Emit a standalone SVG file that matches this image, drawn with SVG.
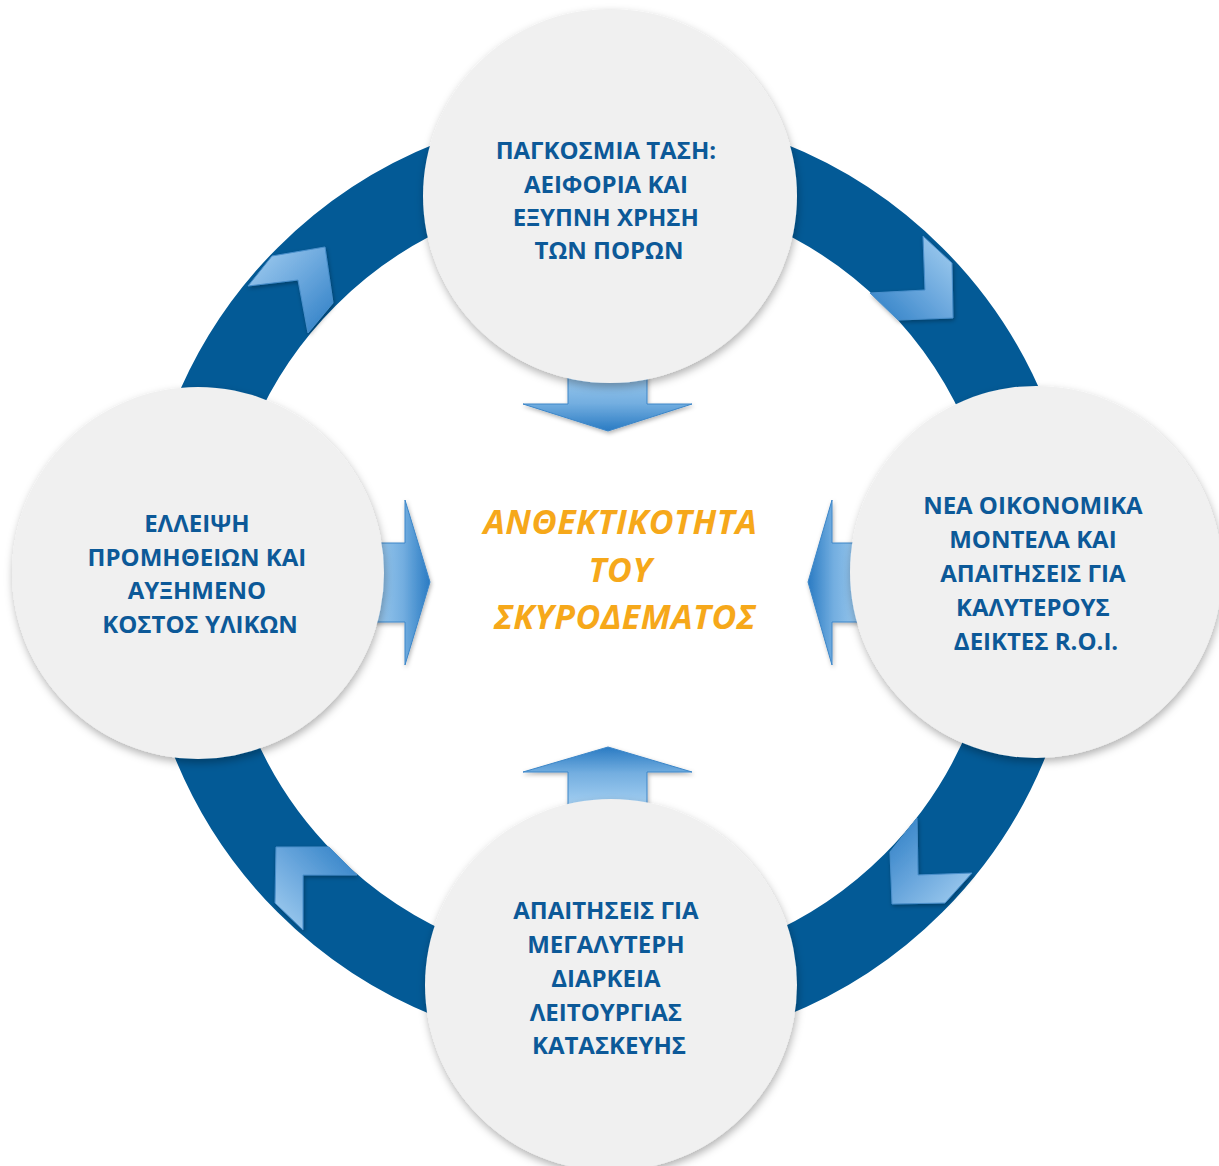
<svg xmlns="http://www.w3.org/2000/svg" width="1219" height="1166" viewBox="0 0 1219 1166">
  <defs>
    <style>
      .ring { fill: none; stroke: #035a96; stroke-width: 82; }
      .node { fill: #f0f0f0; filter: url(#nodeShadow); }
      .label { font-family: "Open Sans", "Noto Sans", "DejaVu Sans", sans-serif; font-weight: 700; font-size: 24px; fill: #0c5998; text-anchor: middle; }
      .core { font-family: "Open Sans", "Noto Sans", "DejaVu Sans", sans-serif; font-weight: 700; font-style: italic; font-size: 34px; letter-spacing: 0.5px; fill: #f6a81a; text-anchor: middle; }
      .chev { stroke: #4a8fcb; stroke-width: 1; stroke-linejoin: miter; filter: url(#chevShadow); }
      .arrow { stroke: #3c86c8; stroke-width: 1; filter: url(#chevShadow); }
    </style>
    <filter id="nodeShadow" x="-20%" y="-20%" width="140%" height="140%">
      <feDropShadow dx="1" dy="4" stdDeviation="4" flood-color="#000" flood-opacity="0.3"/>
    </filter>
    <filter id="chevShadow" x="-20%" y="-20%" width="140%" height="140%">
      <feDropShadow dx="1" dy="2" stdDeviation="2" flood-color="#000" flood-opacity="0.3"/>
    </filter>
    <!-- chevron fills: light end to dark end along each chevron's diagonal -->
    <linearGradient id="chevTL" x1="0" y1="0" x2="1" y2="1">
      <stop offset="0" stop-color="#a6d0f1"/>
      <stop offset="0.5" stop-color="#6aa7dd"/>
      <stop offset="1" stop-color="#2b7dc4"/>
    </linearGradient>
    <linearGradient id="chevTR" x1="1" y1="0" x2="0" y2="1">
      <stop offset="0" stop-color="#a6d0f1"/>
      <stop offset="0.5" stop-color="#6aa7dd"/>
      <stop offset="1" stop-color="#2b7dc4"/>
    </linearGradient>
    <linearGradient id="chevBR" x1="1" y1="1" x2="0" y2="0">
      <stop offset="0" stop-color="#a6d0f1"/>
      <stop offset="0.5" stop-color="#6aa7dd"/>
      <stop offset="1" stop-color="#2b7dc4"/>
    </linearGradient>
    <linearGradient id="chevBL" x1="0" y1="1" x2="1" y2="0">
      <stop offset="0" stop-color="#a6d0f1"/>
      <stop offset="0.5" stop-color="#6aa7dd"/>
      <stop offset="1" stop-color="#2b7dc4"/>
    </linearGradient>
    <!-- inward arrows: pale at the node, deep blue at the tip -->
    <linearGradient id="arrDown" x1="0" y1="0" x2="0" y2="1">
      <stop offset="0" stop-color="#a4cff1"/>
      <stop offset="0.55" stop-color="#73aee0"/>
      <stop offset="1" stop-color="#2a7bc3"/>
    </linearGradient>
    <linearGradient id="arrUp" x1="0" y1="1" x2="0" y2="0">
      <stop offset="0" stop-color="#a4cff1"/>
      <stop offset="0.55" stop-color="#73aee0"/>
      <stop offset="1" stop-color="#2a7bc3"/>
    </linearGradient>
    <linearGradient id="arrRight" x1="0" y1="0" x2="1" y2="0">
      <stop offset="0" stop-color="#a4cff1"/>
      <stop offset="0.55" stop-color="#73aee0"/>
      <stop offset="1" stop-color="#2a7bc3"/>
    </linearGradient>
    <linearGradient id="arrLeft" x1="1" y1="0" x2="0" y2="0">
      <stop offset="0" stop-color="#a4cff1"/>
      <stop offset="0.55" stop-color="#73aee0"/>
      <stop offset="1" stop-color="#2a7bc3"/>
    </linearGradient>
  </defs>

  <rect width="1219" height="1166" fill="#ffffff"/>

  <!-- cycle ring with clockwise chevrons, and the four inward arrows -->
  <g id="connectors">
    <circle class="ring" cx="610" cy="580" r="429"/>
    <polygon class="chev" fill="url(#chevTL)" points="248,286 272,256 325,247 333,303 308,333 298,280"/>
    <polygon class="chev" fill="url(#chevTR)" points="923,236 952,263 953,318 898,320 870,293 925,290"/>
    <polygon class="chev" fill="url(#chevBR)" points="917,818 918,875 972,873 945,903 892,904 890,852"/>
    <polygon class="chev" fill="url(#chevBL)" points="276,847 329,847 357,875 303,875 303,930 275,903"/>

    <polygon class="arrow" fill="url(#arrDown)" points="568,370 647,370 647,404 692,404 608,431 523,404 568,404"/>
    <polygon class="arrow" fill="url(#arrUp)" points="568,805 647,805 647,772 692,772 608,747 523,772 568,772"/>
    <polygon class="arrow" fill="url(#arrRight)" points="370,543 405,543 405,500 430,582 405,665 405,622 370,622"/>
    <polygon class="arrow" fill="url(#arrLeft)" points="865,543 832,543 832,500 808,582 832,665 832,622 865,622"/>
  </g>

  <g id="node-top">
    <circle class="node" cx="610" cy="196" r="187"/>
    <text class="label">
      <tspan x="609" y="159">ΠΑΓΚΟΣΜΙΑ ΤΑΣΗ:</tspan>
      <tspan x="609" y="193">ΑΕΙΦΟΡΙΑ ΚΑΙ</tspan>
      <tspan x="609" y="226">ΕΞΥΠΝΗ ΧΡΗΣΗ</tspan>
      <tspan x="609" y="259">ΤΩΝ ΠΟΡΩΝ</tspan>
    </text>
  </g>

  <g id="node-left">
    <circle class="node" cx="198" cy="573" r="186"/>
    <text class="label">
      <tspan x="200" y="532">ΕΛΛΕΙΨΗ</tspan>
      <tspan x="200" y="566">ΠΡΟΜΗΘΕΙΩΝ ΚΑΙ</tspan>
      <tspan x="200" y="599">ΑΥΞΗΜΕΝΟ</tspan>
      <tspan x="200" y="633">ΚΟΣΤΟΣ ΥΛΙΚΩΝ</tspan>
    </text>
  </g>

  <g id="node-right">
    <circle class="node" cx="1036" cy="572" r="186"/>
    <text class="label">
      <tspan x="1036" y="514">ΝΕΑ ΟΙΚΟΝΟΜΙΚΑ</tspan>
      <tspan x="1036" y="548">ΜΟΝΤΕΛΑ ΚΑΙ</tspan>
      <tspan x="1036" y="582">ΑΠΑΙΤΗΣΕΙΣ ΓΙΑ</tspan>
      <tspan x="1036" y="616">ΚΑΛΥΤΕΡΟΥΣ</tspan>
      <tspan x="1036" y="650">ΔΕΙΚΤΕΣ R.O.I.</tspan>
    </text>
  </g>

  <g id="node-bottom">
    <circle class="node" cx="611" cy="985" r="186"/>
    <text class="label">
      <tspan x="609" y="919">ΑΠΑΙΤΗΣΕΙΣ ΓΙΑ</tspan>
      <tspan x="609" y="953">ΜΕΓΑΛΥΤΕΡΗ</tspan>
      <tspan x="609" y="987">ΔΙΑΡΚΕΙΑ</tspan>
      <tspan x="609" y="1021">ΛΕΙΤΟΥΡΓΙΑΣ</tspan>
      <tspan x="609" y="1054">ΚΑΤΑΣΚΕΥΗΣ</tspan>
    </text>
  </g>

  <g id="node-center">
    <text class="core">
      <tspan x="625" y="534">ΑΝΘΕΚΤΙΚΟΤΗΤΑ</tspan>
      <tspan x="625" y="582">ΤΟΥ</tspan>
      <tspan x="625" y="629">ΣΚΥΡΟΔΕΜΑΤΟΣ</tspan>
    </text>
  </g>
</svg>
